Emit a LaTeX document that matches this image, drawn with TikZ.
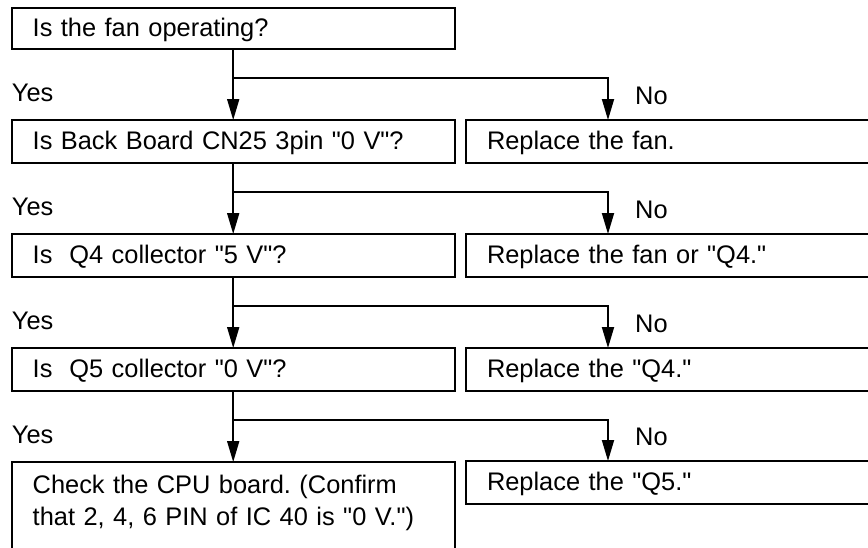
\documentclass[tikz,border=0pt]{standalone}
\usepackage{fontspec}
\newfontfamily\chartfont{Liberation Sans}
\usetikzlibrary{arrows.meta,positioning,calc}
\tikzset{link/.style={-{Triangle[length=21pt,width=12pt]},line width=1.8pt}}
\frenchspacing

\begin{document}
\begin{tikzpicture}[x=1pt,y=-1pt,
  ask/.style={draw,line width=1.8pt,anchor=north west,outer sep=0pt,inner xsep=21pt,
    text width=401pt,minimum height=43pt,text height=18pt,text depth=2pt,align=left,
    font=\chartfont\fontsize{25.4}{32}\selectfont},
  fix/.style={ask,text width=420pt},
  tag/.style={anchor=base west,inner sep=0pt,font=\chartfont\fontsize{25.4}{32}\selectfont}]
\useasboundingbox (0,0) rectangle (868,547);
\clip (0,0) rectangle (868,547);
% Checks on the left
\node[ask,minimum height=41pt] (q1) at (11.7,8) {Is the fan operating?};
\node[ask] (q2) at (11.7,120) {Is Back Board CN25 3pin "0 V"?};
\node[ask] (q3) at (11.7,234) {Is~ Q4 collector "5 V"?};
\node[ask] (q4) at (11.7,348) {Is~ Q5 collector "0 V"?};
\node[ask,minimum height=0pt,inner ysep=13pt,text depth=90pt] (q5) at (11.7,462)
  {Check the CPU board. (Confirm\\that 2, 4, 6 PIN of IC 40 is "0 V.")};
% Remedies on the right
\node[fix] (r2) at (466,120) {Replace the fan.};
\node[fix] (r3) at (466,234) {Replace the fan or "Q4."};
\node[fix] (r4) at (466,348) {Replace the "Q4."};
\node[fix] (r5) at (466,461) {Replace the "Q5."};
% Yes / No branches
\foreach \a/\b in {q1/2,q2/3,q3/4,q4/5}{
  \draw[link] (\a.south) -- (q\b.north);
  \draw[link] ([yshift=-29pt]\a.south) -| ([xshift=142pt]r\b.north west);
  \node[tag] (yes\b) at ([yshift=19pt]q\b.north west) {Yes};
  \node[tag] (no\b) at ([xshift=169pt,yshift=16pt]r\b.north west) {No};
}
\end{tikzpicture}
\end{document}
